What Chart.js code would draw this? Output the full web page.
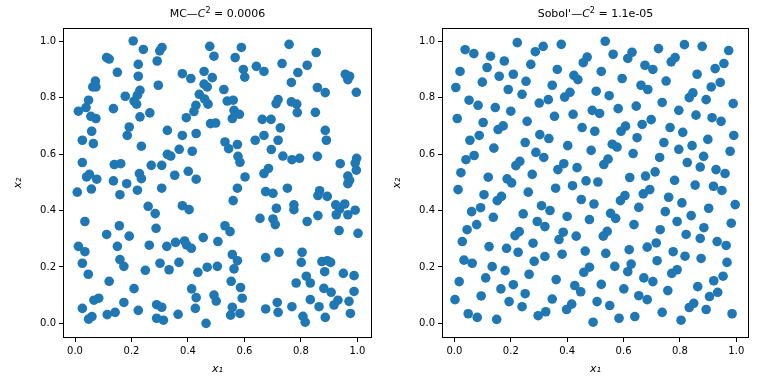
<!DOCTYPE html>
<html>
<head>
<meta charset="utf-8">
<script src="https://cdn.jsdelivr.net/npm/chart.js@4.4.0/dist/chart.umd.min.js"></script>
<style>
  body { margin: 0; background: #fff; }
  #wrap { position: relative; width: 768px; height: 384px; }
  .panel { position: absolute; top: 0; width: 384px; height: 384px; }
</style>
</head>
<body>
<div id="wrap">
  <div class="panel" style="left:0"><canvas id="mc" width="384" height="384"></canvas></div>
  <div class="panel" style="left:384px"><canvas id="sobol" width="384" height="384"></canvas></div>
</div>
<script>
// Monte Carlo sample
const mcX = [
  0.206, 0.242, 0.300, 0.308, 0.112, 0.121, 0.291, 0.224, 0.150, 0.224, 0.072, 0.063, 0.074, 0.295, 0.230,
  0.221, 0.209, 0.218, 0.178, 0.048, 0.039, 0.012, 0.136, 0.265, 0.230, 0.056, 0.074, 0.192, 0.059, 0.185,
  0.026, 0.065, 0.235, 0.026, 0.139, 0.162, 0.270, 0.307, 0.041, 0.051, 0.077, 0.228, 0.235, 0.136, 0.183,
  0.477, 0.589, 0.492, 0.567, 0.380, 0.410, 0.457, 0.486, 0.596, 0.601, 0.642, 0.669, 0.457, 0.468, 0.527,
  0.440, 0.459, 0.471, 0.539, 0.560, 0.428, 0.421, 0.563, 0.582, 0.557, 0.394, 0.663, 0.480, 0.498, 0.327,
  0.380, 0.429, 0.531, 0.544, 0.575, 0.638, 0.669, 0.327, 0.339, 0.369, 0.415, 0.577, 0.584, 0.353, 0.401,
  0.429, 0.602, 0.669, 0.685,
  0.758, 0.854, 0.733, 0.822, 0.789, 0.766, 0.957, 0.972, 0.966, 0.858, 0.886, 0.996, 0.719, 0.712, 0.766,
  0.785, 0.787, 0.851, 0.694, 0.727, 0.886, 0.719, 0.890, 0.695, 0.736, 0.768, 0.795, 0.858, 0.939, 0.997,
  0.992, 0.996, 0.966, 0.972, 0.966,
  0.008, 0.058, 0.159, 0.221, 0.307, 0.259, 0.284, 0.035, 0.157, 0.112, 0.192, 0.287, 0.012, 0.035, 0.150,
  0.263, 0.026, 0.159, 0.173, 0.301, 0.047, 0.249, 0.121, 0.209, 0.067, 0.084, 0.173, 0.026, 0.224, 0.289,
  0.307, 0.048, 0.060, 0.114, 0.142, 0.289, 0.313,
  0.575, 0.560, 0.675, 0.380, 0.404, 0.655, 0.531, 0.549, 0.325, 0.356, 0.388, 0.395, 0.412, 0.454, 0.506,
  0.557, 0.575, 0.563, 0.675, 0.333, 0.368, 0.435, 0.468, 0.504, 0.413, 0.429, 0.492, 0.500, 0.553, 0.586,
  0.592, 0.557, 0.551, 0.584, 0.675, 0.365, 0.426, 0.464,
  0.701, 0.752, 0.866, 0.860, 0.893, 0.713, 0.775, 0.775, 0.923, 0.955, 0.937, 0.925, 0.966, 0.992, 0.701,
  0.709, 0.822, 0.860, 0.935, 1.002, 0.722, 0.804, 0.801, 0.874, 0.893, 0.905, 0.884, 0.950, 0.988, 0.819,
  0.833, 0.783, 0.881, 0.907, 0.988, 0.833, 0.931, 0.917, 0.970, 0.716, 0.719, 0.768, 0.864, 0.807, 0.815,
  0.886, 0.975
];
const mcY = [
  1.001, 0.971, 0.966, 0.978, 0.942, 0.937, 0.930, 0.918, 0.890, 0.876, 0.859, 0.838, 0.838, 0.844, 0.826,
  0.809, 0.788, 0.777, 0.805, 0.791, 0.765, 0.752, 0.761, 0.746, 0.732, 0.734, 0.726, 0.696, 0.681, 0.666,
  0.649, 0.637, 0.628, 0.570, 0.563, 0.566, 0.560, 0.560, 0.519, 0.528, 0.511, 0.531, 0.513, 0.505, 0.495,
  0.982, 0.978, 0.947, 0.942, 0.885, 0.868, 0.893, 0.871, 0.900, 0.873, 0.911, 0.893, 0.848, 0.838, 0.829,
  0.812, 0.795, 0.777, 0.788, 0.791, 0.773, 0.751, 0.755, 0.741, 0.726, 0.729, 0.723, 0.708, 0.710, 0.684,
  0.666, 0.673, 0.643, 0.619, 0.634, 0.649, 0.666, 0.599, 0.593, 0.617, 0.610, 0.592, 0.571, 0.525, 0.539,
  0.511, 0.519, 0.531, 0.549,
  0.989, 0.960, 0.921, 0.915, 0.889, 0.854, 0.883, 0.876, 0.864, 0.836, 0.818, 0.819, 0.793, 0.779, 0.785,
  0.777, 0.747, 0.748, 0.723, 0.693, 0.684, 0.649, 0.649, 0.616, 0.593, 0.580, 0.585, 0.592, 0.566, 0.585,
  0.568, 0.543, 0.522, 0.507, 0.495,
  0.465, 0.476, 0.456, 0.472, 0.479, 0.415, 0.389, 0.361, 0.346, 0.315, 0.309, 0.337, 0.273, 0.254, 0.273,
  0.277, 0.213, 0.226, 0.202, 0.213, 0.174, 0.188, 0.149, 0.123, 0.082, 0.089, 0.074, 0.053, 0.046, 0.066,
  0.057, 0.015, 0.024, 0.031, 0.039, 0.018, 0.011,
  0.479, 0.435, 0.467, 0.417, 0.403, 0.372, 0.346, 0.325, 0.273, 0.287, 0.292, 0.278, 0.266, 0.304, 0.290,
  0.244, 0.222, 0.193, 0.233, 0.190, 0.216, 0.181, 0.199, 0.202, 0.122, 0.091, 0.100, 0.079, 0.149, 0.127,
  0.089, 0.057, 0.029, 0.035, 0.051, 0.032, 0.053, 0.000,
  0.461, 0.479, 0.470, 0.453, 0.450, 0.408, 0.420, 0.403, 0.420, 0.423, 0.405, 0.385, 0.385, 0.401, 0.370,
  0.350, 0.361, 0.382, 0.329, 0.319, 0.252, 0.252, 0.216, 0.219, 0.222, 0.216, 0.183, 0.177, 0.169, 0.167,
  0.143, 0.143, 0.124, 0.110, 0.113, 0.084, 0.082, 0.065, 0.078, 0.074, 0.039, 0.059, 0.059, 0.025, 0.004,
  0.021, 0.035
];

// Sobol' sample
const sobolX = [
  0.223, 0.038, 0.069, 0.128, 0.177, 0.287, 0.315, 0.116, 0.271, 0.020, 0.159, 0.209, 0.099, 0.254, 0.005,
  0.191, 0.240, 0.052, 0.084, 0.145, 0.200, 0.301, 0.010, 0.102, 0.258, 0.155, 0.173, 0.088, 0.055, 0.303,
  0.251, 0.140, 0.070, 0.041, 0.289, 0.317, 0.232, 0.218, 0.023, 0.120, 0.187, 0.203, 0.276,
  0.379, 0.535, 0.563, 0.630, 0.615, 0.471, 0.457, 0.676, 0.365, 0.521, 0.424, 0.438, 0.595, 0.347, 0.662,
  0.686, 0.503, 0.549, 0.410, 0.391, 0.333, 0.489, 0.515, 0.581, 0.645, 0.421, 0.355, 0.453, 0.498, 0.607,
  0.591, 0.666, 0.335, 0.402, 0.648, 0.560, 0.577, 0.485, 0.634, 0.388, 0.367, 0.435, 0.545, 0.530, 0.622,
  0.678, 0.467, 0.509,
  0.724, 0.816, 0.879, 0.973, 0.783, 0.769, 0.704, 0.956, 0.925, 0.861, 0.751, 0.943, 0.911, 0.846, 0.833,
  0.893, 0.737, 0.989, 0.796, 0.857, 0.914, 0.946, 0.698, 0.765, 0.810, 0.991, 0.899, 0.743, 0.843, 0.796,
  0.978, 0.884, 0.728, 0.826, 0.872, 0.928, 0.960, 0.712, 0.781,
  0.013, 0.105, 0.152, 0.167, 0.262, 0.309, 0.061, 0.093, 0.138, 0.244, 0.079, 0.045, 0.294, 0.321, 0.215,
  0.230, 0.028, 0.123, 0.185, 0.226, 0.279, 0.034, 0.063, 0.134, 0.180, 0.283, 0.321, 0.111, 0.265, 0.017,
  0.165, 0.209, 0.095, 0.251, 0.002, 0.194, 0.240, 0.049, 0.081, 0.150, 0.297, 0.324,
  0.359, 0.419, 0.450, 0.495, 0.605, 0.589, 0.670, 0.693, 0.339, 0.400, 0.479, 0.554, 0.572, 0.654, 0.637,
  0.386, 0.371, 0.432, 0.542, 0.528, 0.382, 0.464, 0.537, 0.620, 0.684, 0.479, 0.459, 0.569, 0.627, 0.615,
  0.361, 0.427, 0.448, 0.521, 0.672, 0.601, 0.347, 0.654, 0.684, 0.506, 0.551, 0.416, 0.398, 0.492, 0.584,
  0.640,
  0.854, 0.919, 0.949, 0.760, 0.807, 0.996, 0.902, 0.748, 0.840, 0.790, 0.982, 0.885, 0.730, 0.822, 0.872,
  0.932, 0.964, 0.716, 0.776, 0.818, 0.875, 0.719, 0.967, 0.790, 0.771, 0.704, 0.953, 0.920, 0.863, 0.757,
  0.934, 0.905, 0.849, 0.833, 0.893, 0.737, 0.985, 0.804
];
const sobolY = [
  0.995, 0.970, 0.956, 0.947, 0.930, 0.963, 0.982, 0.907, 0.918, 0.893, 0.876, 0.883, 0.855, 0.858, 0.836,
  0.829, 0.812, 0.791, 0.773, 0.765, 0.752, 0.781, 0.726, 0.712, 0.716, 0.687, 0.700, 0.666, 0.649, 0.669,
  0.641, 0.621, 0.595, 0.580, 0.606, 0.588, 0.574, 0.559, 0.534, 0.518, 0.512, 0.498, 0.528,
  0.989, 1.000, 0.954, 0.961, 0.939, 0.944, 0.924, 0.915, 0.900, 0.893, 0.879, 0.864, 0.868, 0.844, 0.844,
  0.829, 0.823, 0.807, 0.819, 0.802, 0.793, 0.755, 0.744, 0.761, 0.770, 0.741, 0.734, 0.694, 0.681, 0.699,
  0.681, 0.705, 0.655, 0.630, 0.658, 0.635, 0.625, 0.613, 0.602, 0.566, 0.545, 0.552, 0.582, 0.563, 0.517,
  0.522, 0.505, 0.501,
  0.974, 0.988, 0.982, 0.967, 0.942, 0.927, 0.900, 0.921, 0.903, 0.883, 0.859, 0.854, 0.838, 0.817, 0.800,
  0.793, 0.783, 0.779, 0.755, 0.738, 0.729, 0.716, 0.722, 0.694, 0.677, 0.666, 0.652, 0.641, 0.630, 0.617,
  0.610, 0.592, 0.588, 0.570, 0.554, 0.545, 0.531, 0.537, 0.507,
  0.474, 0.456, 0.435, 0.450, 0.465, 0.417, 0.396, 0.410, 0.376, 0.388, 0.350, 0.332, 0.361, 0.343, 0.311,
  0.325, 0.290, 0.272, 0.266, 0.252, 0.284, 0.224, 0.213, 0.201, 0.187, 0.220, 0.237, 0.161, 0.174, 0.148,
  0.122, 0.137, 0.097, 0.105, 0.084, 0.077, 0.059, 0.034, 0.021, 0.014, 0.027, 0.041,
  0.479, 0.488, 0.439, 0.423, 0.453, 0.435, 0.459, 0.474, 0.400, 0.379, 0.368, 0.390, 0.372, 0.411, 0.350,
  0.323, 0.297, 0.309, 0.326, 0.309, 0.245, 0.256, 0.248, 0.261, 0.270, 0.199, 0.181, 0.202, 0.210, 0.183,
  0.155, 0.134, 0.112, 0.138, 0.161, 0.122, 0.086, 0.098, 0.084, 0.077, 0.063, 0.068, 0.049, 0.004, 0.018,
  0.024,
  0.490, 0.486, 0.471, 0.447, 0.427, 0.421, 0.408, 0.396, 0.382, 0.361, 0.355, 0.339, 0.332, 0.315, 0.301,
  0.290, 0.276, 0.285, 0.254, 0.238, 0.230, 0.222, 0.216, 0.190, 0.177, 0.148, 0.167, 0.151, 0.130, 0.116,
  0.110, 0.095, 0.071, 0.056, 0.049, 0.039, 0.034, 0.011
];

const tickValues = [0, 0.2, 0.4, 0.6, 0.8, 1.0];
const FONT = 'DejaVu Sans';

// box around the plot area, like matplotlib spines
const framePlugin = {
  id: 'frame',
  afterDatasetsDraw(chart) {
    const { ctx, chartArea: a } = chart;
    ctx.save();
    ctx.strokeStyle = '#000';
    ctx.lineWidth = 1;
    const l = Math.round(a.left) + 0.5, t = Math.round(a.top) + 0.5;
    const r = Math.round(a.right) - 0.5, b = Math.round(a.bottom) - 0.5;
    ctx.strokeRect(l, t, r - l, b - t);
    ctx.restore();
  }
};

// title with italic C and a superscript 2
const mathTitle = {
  id: 'mathTitle',
  afterDraw(chart, args, opts) {
    const { ctx, chartArea: a } = chart;
    const parts = [
      { text: opts.name + '\u2014', font: '11px "' + FONT + '"', dy: 0 },
      { text: 'C', font: 'italic 11px "' + FONT + '"', dy: 0 },
      { text: '2', font: '8px "' + FONT + '"', dy: -4 },
      { text: ' = ' + opts.value, font: '11px "' + FONT + '"', dy: 0 }
    ];
    ctx.save();
    ctx.fillStyle = '#000';
    ctx.textBaseline = 'alphabetic';
    let total = 0;
    parts.forEach(p => { ctx.font = p.font; p.w = ctx.measureText(p.text).width; total += p.w; });
    let x = (a.left + a.right) / 2 - total / 2;
    parts.forEach(p => { ctx.font = p.font; ctx.fillText(p.text, x, 17 + p.dy); x += p.w; });
    ctx.restore();
  }
};

function makeChart(id, xs, ys, name, value, lim, box) {
  const points = xs.map((x, i) => ({ x: x, y: ys[i] }));
  const tickOpts = {
    color: '#000',
    font: { family: FONT, size: 10 },
    padding: 3,
    callback: v => v.toFixed(1)
  };
  const gridOpts = { drawOnChartArea: false, drawTicks: true, tickLength: 4, color: '#000', lineWidth: 1 };
  return new Chart(document.getElementById(id), {
    type: 'scatter',
    data: {
      datasets: [{
        data: points,
        backgroundColor: '#1f77b4',
        borderWidth: 0,
        pointRadius: 4.8,
        pointHoverRadius: 4.8
      }]
    },
    options: {
      responsive: false,
      animation: false,
      events: [],
      devicePixelRatio: 1,
      layout: { padding: { top: 28, right: box.right, bottom: 0, left: 0 } },
      plugins: {
        legend: { display: false },
        tooltip: { enabled: false },
        mathTitle: { name: name, value: value }
      },
      scales: {
        x: {
          type: 'linear',
          min: lim.x[0], max: lim.x[1],
          afterBuildTicks: s => { s.ticks = tickValues.map(v => ({ value: v })); },
          afterFit: s => { s.height = 46; },
          ticks: tickOpts,
          grid: gridOpts,
          border: { display: false },
          title: {
            display: true, text: 'x\u2081', color: '#000',
            font: { family: FONT, size: 11, style: 'italic' },
            padding: { top: 0, bottom: 8.4 }
          }
        },
        y: {
          type: 'linear',
          min: lim.y[0], max: lim.y[1],
          afterBuildTicks: s => { s.ticks = tickValues.map(v => ({ value: v })); },
          afterFit: s => { s.width = box.axis; },
          ticks: tickOpts,
          grid: gridOpts,
          border: { display: false },
          title: {
            display: true, text: 'x\u2082', color: '#000',
            font: { family: FONT, size: 11, style: 'italic' },
            padding: { top: box.ytitle, bottom: 0 }
          }
        }
      }
    },
    plugins: [framePlugin, mathTitle]
  });
}

makeChart('mc', mcX, mcY, 'MC', '0.0006',
  { x: [-0.0425, 1.0515], y: [-0.052, 1.047] },
  { axis: 63, right: 12, ytitle: 11.4 });
makeChart('sobol', sobolX, sobolY, 'Sobol\'', '1.1e-05',
  { x: [-0.044, 1.045], y: [-0.052, 1.047] },
  { axis: 58, right: 19, ytitle: 6.4 });
</script>
</body>
</html>
